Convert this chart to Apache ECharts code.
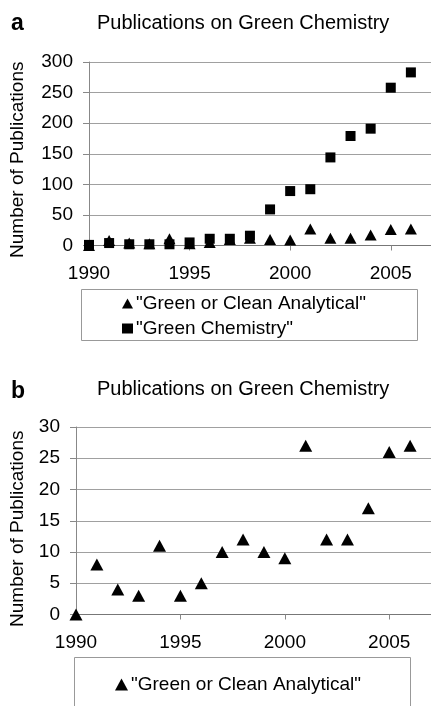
<!DOCTYPE html>
<html>
<head>
<meta charset="utf-8">
<script src="https://cdn.jsdelivr.net/npm/echarts@6/dist/echarts.min.js"></script>
<style>
  html, body { margin: 0; padding: 0; background: #fff; }
  #chart-container { width: 431px; height: 706px; }
</style>
</head>
<body>
<div id="chart-container"></div>
<script>
var dom = document.getElementById('chart-container');
var myChart = echarts.init(dom, null, { renderer: 'canvas' });

// data
const years = [1990, 1991, 1992, 1993, 1994, 1995, 1996, 1997, 1998, 1999, 2000, 2001, 2002, 2003, 2004, 2005, 2006];
const analytical = [0, 8, 4, 3, 11, 3, 5, 10, 12, 10, 9, 27, 12, 12, 17, 26, 27];
const greenChem = [1, 4, 2, 2, 2, 5, 11, 11, 16, 59, 89, 92, 144, 179, 191, 258, 283];
const xTicks = [1990, 1995, 2000, 2005];
const yTicksA = [0, 50, 100, 150, 200, 250, 300];
const yTicksB = [0, 5, 10, 15, 20, 25, 30];

const NAME_A = '"Green or Clean Analytical"';
const NAME_B = '"Green Chemistry"';
const font = "'Liberation Sans', Arial, sans-serif";

function pairs(vals) {
    return years.map(function (y, i) { return [y, vals[i]]; });
}

function xAxisFor(grid, margin) {
    return {
        type: 'value',
        gridIndex: grid,
        min: 1990,
        max: 2007,
        interval: 5,
        axisLine: { show: true, onZero: false, lineStyle: { color: '#777', width: 1 } },
        axisTick: { show: true, length: 5, customValues: xTicks, lineStyle: { color: '#888' } },
        axisLabel: {
            margin: margin,
            color: '#000',
            fontFamily: font,
            fontSize: 19,
            customValues: xTicks,
            formatter: function (v) { return String(v); }
        },
        splitLine: { show: false }
    };
}

function yAxisFor(grid, ticks, gap, shift) {
    return {
        type: 'value',
        gridIndex: grid,
        min: ticks[0],
        max: ticks[ticks.length - 1],
        interval: ticks[1] - ticks[0],
        name: 'Number of Publications',
        nameLocation: 'middle',
        nameGap: gap,
        nameTextStyle: { color: '#000', fontFamily: font, fontSize: 19, padding: [0, shift, 0, 0] },
        axisLine: { show: true, lineStyle: { color: '#888', width: 1 } },
        axisTick: { show: true, length: 6, lineStyle: { color: '#888' } },
        axisLabel: { margin: 16, color: '#000', fontFamily: font, fontSize: 19 },
        splitLine: { show: true, lineStyle: { color: '#a0a0a0', width: 1 } }
    };
}

var option = {
    animation: false,
    backgroundColor: '#fff',
    textStyle: { fontFamily: font },
    title: [
        { text: 'a', left: 11, top: 12, padding: 0,
          textStyle: { fontSize: 23, fontWeight: 'bold', color: '#000', fontFamily: font } },
        { text: 'Publications on Green Chemistry', left: 97, top: 13, padding: 0,
          textStyle: { fontSize: 20, fontWeight: 'normal', color: '#000', fontFamily: font } },
        { text: 'b', left: 11, top: 380, padding: 0,
          textStyle: { fontSize: 23, fontWeight: 'bold', color: '#000', fontFamily: font } },
        { text: 'Publications on Green Chemistry', left: 97, top: 379, padding: 0,
          textStyle: { fontSize: 20, fontWeight: 'normal', color: '#000', fontFamily: font } }
    ],
    graphic: [
        { type: 'rect', left: 81, top: 289, shape: { width: 336, height: 51 },
          style: { fill: '#fff', stroke: '#999', lineWidth: 1 }, z: 0 },
        { type: 'rect', left: 74, top: 657, shape: { width: 336, height: 60 },
          style: { fill: '#fff', stroke: '#999', lineWidth: 1 }, z: 0 }
    ],
    legend: [
        {
            orient: 'vertical',
            left: 122,
            top: 294,
            padding: 0,
            itemGap: 6,
            itemWidth: 11,
            itemHeight: 10,
            itemStyle: { opacity: 1 },
            textStyle: { color: '#000', fontFamily: font, fontSize: 19, lineHeight: 19, padding: [0, 0, 0, -2] },
            data: [
                { name: NAME_A, icon: 'triangle' },
                { name: NAME_B, icon: 'rect' }
            ]
        },
        {
            orient: 'vertical',
            left: 115,
            top: 675,
            padding: 0,
            itemWidth: 13,
            itemHeight: 12,
            itemStyle: { opacity: 1 },
            textStyle: { color: '#000', fontFamily: font, fontSize: 19, lineHeight: 19, padding: [0, 0, 0, -2] },
            data: [{ name: NAME_A + ' ', icon: 'triangle' }]
        }
    ],
    grid: [
        { left: 89, right: 0, top: 62, height: 183.5 },
        { left: 76, right: 0, top: 427, height: 187.5 }
    ],
    xAxis: [xAxisFor(0, 19), xAxisFor(1, 19)],
    yAxis: [yAxisFor(0, yTicksA, 62, 12), yAxisFor(1, yTicksB, 49, 16)],
    series: [
        {
            name: NAME_A,
            type: 'scatter',
            xAxisIndex: 0, yAxisIndex: 0,
            symbol: 'triangle',
            symbolSize: [12, 11],
            itemStyle: { color: '#000', opacity: 1 },
            z: 3,
            data: pairs(analytical)
        },
        {
            name: NAME_B,
            type: 'scatter',
            xAxisIndex: 0, yAxisIndex: 0,
            symbol: 'rect',
            symbolSize: 10,
            itemStyle: { color: '#000', opacity: 1 },
            z: 2,
            data: pairs(greenChem)
        },
        {
            name: NAME_A + ' ',
            type: 'scatter',
            xAxisIndex: 1, yAxisIndex: 1,
            symbol: 'triangle',
            symbolSize: [13, 12],
            itemStyle: { color: '#000', opacity: 1 },
            data: pairs(analytical)
        }
    ]
};

myChart.setOption(option);
window.addEventListener('resize', myChart.resize);
</script>
</body>
</html>
